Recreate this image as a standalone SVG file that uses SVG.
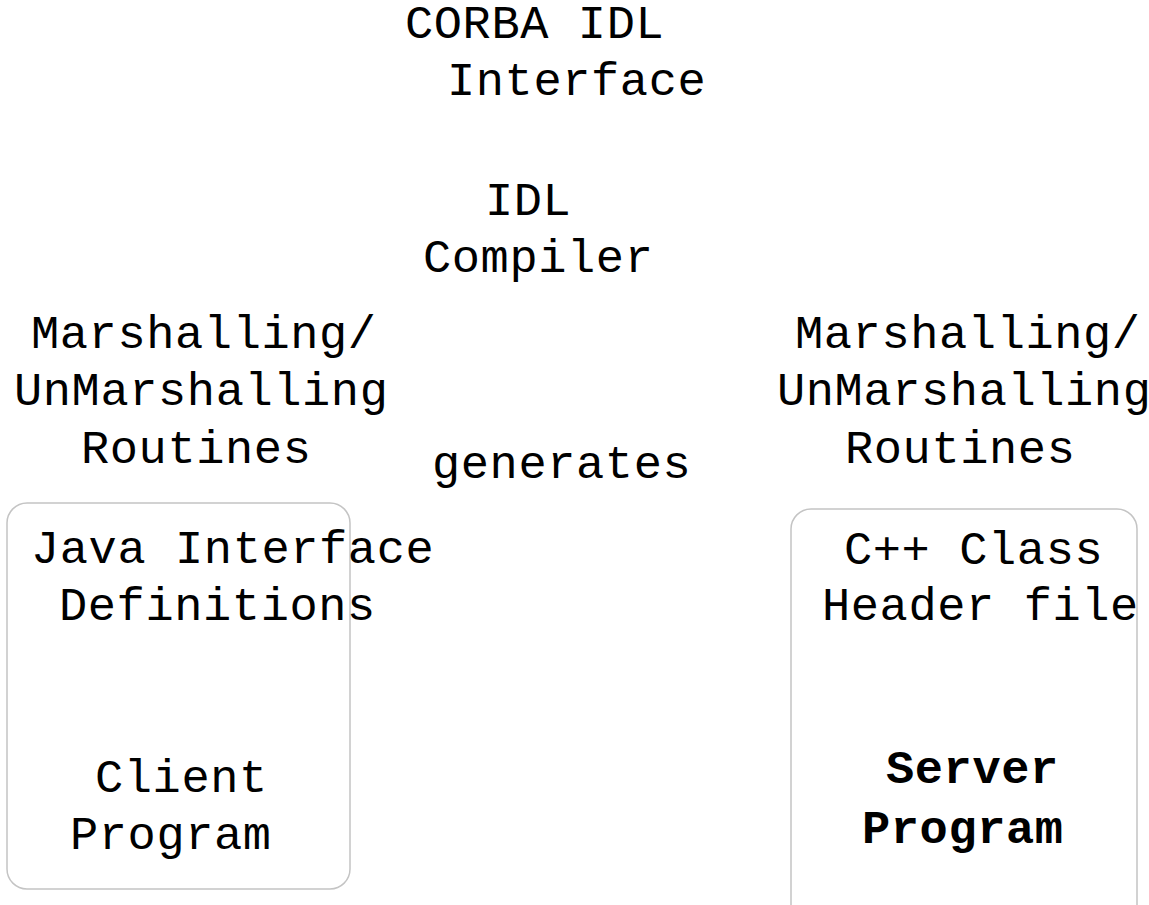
<svg xmlns="http://www.w3.org/2000/svg" width="1149" height="905" viewBox="0 0 1149 905">
  <style>
    .t { font-family: "Liberation Mono", monospace; font-size: 47px; letter-spacing: 0.6px; fill: #000; }
    .b { font-weight: bold; }
    .box { fill: none; stroke: #c4c4c4; stroke-width: 1.5; }
  </style>
  <defs>
    <clipPath id="serverClip">
      <rect x="791" y="509" width="346" height="420" rx="20" ry="20"/>
    </clipPath>
  </defs>
  <rect width="1149" height="905" fill="#fff"/>

  <g id="idl-interface">
    <text class="t" x="405" y="38">CORBA IDL</text>
    <text class="t" x="447" y="95">Interface</text>
  </g>

  <g id="idl-compiler">
    <text class="t" x="485" y="215">IDL</text>
    <text class="t" x="423" y="272">Compiler</text>
  </g>

  <g id="client-marshalling">
    <text class="t" x="31" y="348">Marshalling/</text>
    <text class="t" x="14" y="405">UnMarshalling</text>
    <text class="t" x="81" y="463">Routines</text>
  </g>

  <g id="server-marshalling">
    <text class="t" x="795" y="348">Marshalling/</text>
    <text class="t" x="777" y="405">UnMarshalling</text>
    <text class="t" x="845" y="463">Routines</text>
  </g>

  <g id="connectors">
    <text class="t" x="432" y="478">generates</text>
  </g>

  <g id="client-program">
    <rect class="box" x="7" y="503" width="343" height="386" rx="20" ry="20"/>
    <text class="t" x="31" y="563">Java Interface</text>
    <text class="t" x="59" y="620">Definitions</text>
    <text class="t" x="95" y="792">Client</text>
    <text class="t" x="70" y="849">Program</text>
  </g>

  <g id="server-program">
    <rect class="box" x="791" y="509" width="346" height="420" rx="20" ry="20"/>
    <g clip-path="url(#serverClip)">
      <text class="t" x="844" y="564">C++ Class</text>
      <text class="t" x="822" y="620">Header file</text>
      <text class="t b" x="886" y="783">Server</text>
      <text class="t b" x="862" y="843">Program</text>
    </g>
  </g>
</svg>
